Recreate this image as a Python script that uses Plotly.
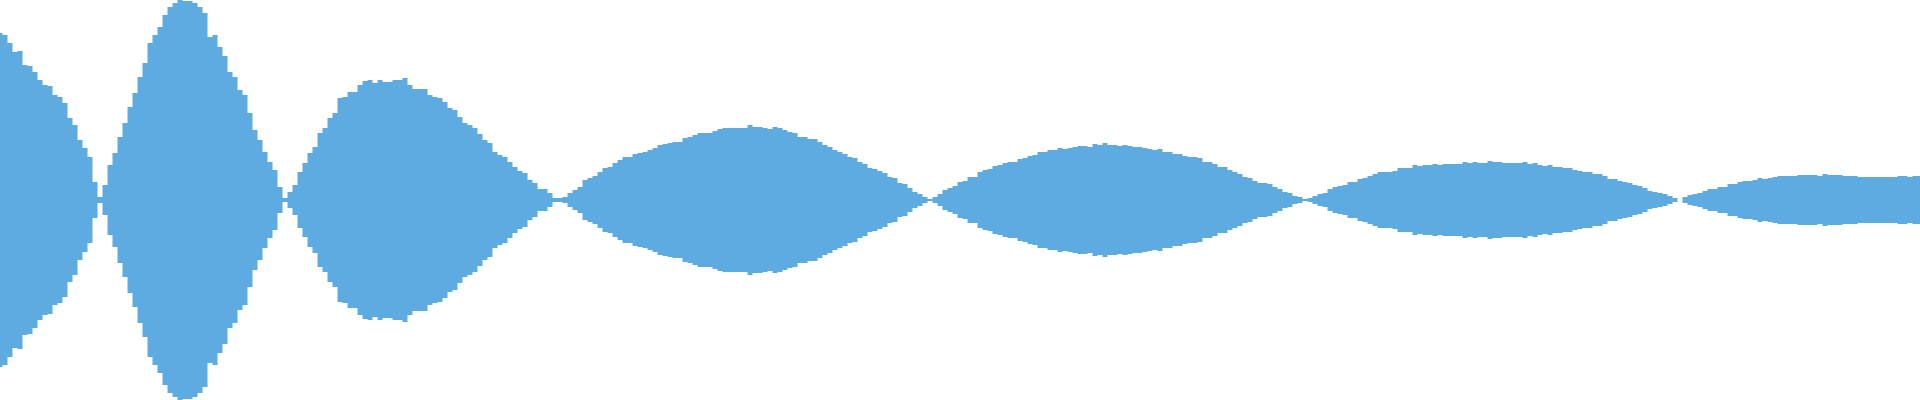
import plotly.graph_objects as go

# Time axis (ms) and peak amplitude of the waveform envelope (0..200 scale)
time_ms = list(range(0, 1921, 5))

peak = [
    167, 165, 157, 148, 149, 135, 134, 128, 120, 115, 114, 105, 103, 97, 82, 75,
    60, 52, 43, 18, 3, 15, 35, 47, 63, 77, 93, 107, 123, 137, 157, 165,
    173, 185, 193, 197, 200, 199, 199, 197, 193, 187, 163, 165, 153, 144, 128, 123,
    110, 105, 87, 70, 60, 48, 38, 30, 13, 2, 8, 15, 28, 37, 47, 53,
    67, 72, 82, 87, 102, 103, 108, 108, 115, 119, 120, 117, 120, 118, 118, 120,
    120, 122, 115, 111, 111, 111, 105, 103, 102, 98, 92, 90, 83, 77, 75, 72,
    66, 60, 57, 48, 45, 43, 38, 33, 29, 27, 20, 17, 11, 11, 7, 2,
    2, 3, 7, 10, 13, 20, 22, 24, 28, 32, 33, 37, 40, 43, 43, 46,
    47, 48, 50, 52, 55, 56, 57, 58, 58, 62, 63, 65, 67, 67, 67, 69,
    71, 72, 72, 72, 72, 72, 75, 73, 73, 72, 71, 73, 72, 70, 68, 67,
    63, 63, 61, 61, 58, 55, 53, 50, 48, 46, 43, 42, 38, 36, 32, 31,
    29, 27, 23, 22, 17, 16, 12, 8, 6, 3, 1, 3, 6, 10, 12, 14,
    18, 19, 23, 23, 28, 30, 31, 34, 35, 37, 38, 38, 41, 42, 44, 45,
    48, 48, 50, 50, 52, 51, 52, 53, 54, 54, 53, 56, 55, 57, 55, 55,
    54, 55, 54, 53, 53, 52, 51, 50, 51, 48, 48, 46, 46, 44, 43, 43,
    42, 38, 38, 36, 33, 33, 30, 28, 26, 23, 22, 19, 17, 17, 16, 13,
    11, 8, 7, 4, 3, 1, 2, 4, 6, 7, 11, 13, 14, 15, 18, 18,
    21, 22, 24, 26, 28, 28, 28, 29, 32, 32, 32, 35, 34, 35, 35, 36,
    35, 36, 36, 36, 36, 38, 37, 38, 37, 37, 39, 38, 38, 37, 37, 37,
    37, 38, 36, 37, 35, 34, 35, 33, 33, 32, 32, 30, 29, 28, 28, 26,
    26, 24, 21, 21, 19, 18, 17, 15, 14, 12, 9, 8, 7, 6, 4, 2,
    0, 3, 5, 6, 7, 9, 11, 11, 13, 13, 16, 16, 18, 19, 19, 20,
    22, 21, 22, 23, 24, 24, 24, 24, 25, 25, 25, 25, 24, 26, 25, 25,
    25, 24, 24, 24, 23, 23, 23, 23, 23, 23, 23, 23, 24, 24, 23, 24,
    24,
]

n = min(len(time_ms), len(peak))
t = time_ms[:n]
upper = peak[:n]
lower = [-v for v in upper]

COLOR = "#5DABE1"

fig = go.Figure()
fig.add_trace(
    go.Scatter(
        x=t, y=upper, mode="lines",
        line=dict(width=0, color=COLOR, shape="hvh"),
        hoverinfo="skip", showlegend=False,
    )
)
fig.add_trace(
    go.Scatter(
        x=t, y=lower, mode="lines",
        fill="tonexty", fillcolor=COLOR,
        line=dict(width=0, color=COLOR, shape="hvh"),
        hoverinfo="skip", showlegend=False,
    )
)

fig.update_layout(
    width=1920,
    height=400,
    margin=dict(l=0, r=0, t=0, b=0, autoexpand=False),
    paper_bgcolor="white",
    plot_bgcolor="white",
    xaxis=dict(visible=False, range=[0, 1920], fixedrange=True),
    yaxis=dict(visible=False, range=[-200, 200], fixedrange=True),
)

fig.write_html(
    "out.html",
    config={"displayModeBar": False, "responsive": False},
    post_script="document.body.style.margin='0';document.body.style.overflow='hidden';",
)
